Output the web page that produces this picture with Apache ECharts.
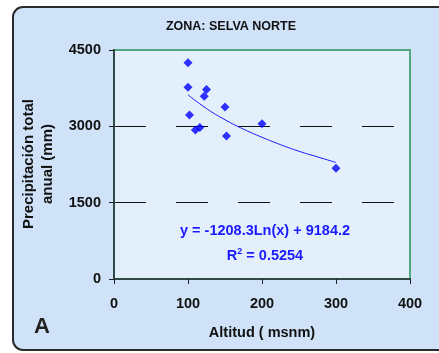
<!DOCTYPE html>
<html>
<head>
<meta charset="utf-8">
<script src="https://cdn.jsdelivr.net/npm/echarts@6/dist/echarts.min.js"></script>
<style>html,body{margin:0;padding:0;background:#fff;}#c{width:439px;height:353px;}</style>
</head>
<body>
<div id="c"></div>
<script>
const titleText = 'ZONA: SELVA NORTE';
const xAxisName = 'Altitud ( msnm)';
const yAxisName = ['Precipitación total', 'anual (mm)'];
const panelLabel = 'A';
const altitud = [100, 100, 102, 110, 116, 122, 125, 150, 152, 200, 300];
const precip = [4250, 3766, 3222, 2927, 2975, 3589, 3726, 3379, 2810, 3051, 2175];
const trendX = [100, 125, 150, 175, 200, 225, 250, 275, 300];
const trendY = [3620, 3350, 3130, 2945, 2785, 2640, 2510, 2400, 2290];
const equation = 'y = -1208.3Ln(x) + 9184.2';
const r2 = '0.5254';

const chart = echarts.init(document.getElementById('c'), null, {renderer: 'canvas'});
const FONT = 'Arial, "Liberation Sans", sans-serif';
chart.setOption({
  animation: false,
  backgroundColor: '#ffffff',
  graphic: [
    {type: 'rect', z: -10, shape: {x: 13, y: 7, width: 460, height: 343, r: 10},
     style: {fill: '#cfe2f8', stroke: '#2b2b2b', lineWidth: 2}},
    {type: 'text', x: 231, y: 27, style: {text: titleText, font: 'bold 12.5px ' + FONT, fill: '#111', align: 'center', verticalAlign: 'middle'}},
    {type: 'text', x: 29, y: 164, rotation: Math.PI / 2, style: {text: yAxisName[0], font: 'bold 15px ' + FONT, fill: '#111', align: 'center', verticalAlign: 'middle'}},
    {type: 'text', x: 48, y: 164, rotation: Math.PI / 2, style: {text: yAxisName[1], font: 'bold 15px ' + FONT, fill: '#111', align: 'center', verticalAlign: 'middle'}},
    {type: 'text', x: 262, y: 333, style: {text: xAxisName, font: 'bold 14.5px ' + FONT, fill: '#111', align: 'center', verticalAlign: 'middle'}},
    {type: 'text', x: 42, y: 327, style: {text: panelLabel, font: 'bold 22px ' + FONT, fill: '#222', align: 'center', verticalAlign: 'middle'}},
    {type: 'text', x: 265, y: 231, style: {text: equation, font: 'bold 14.5px ' + FONT, fill: '#1a1aff', align: 'center', verticalAlign: 'middle'}},
    {type: 'text', x: 265, y: 256, style: {
      text: '{a|R}{s|2}{a| = ' + r2 + '}', align: 'center', verticalAlign: 'middle',
      rich: {a: {font: 'bold 14.5px ' + FONT, fill: '#1a1aff'}, s: {font: 'bold 9px ' + FONT, fill: '#1a1aff', verticalAlign: 'top', padding: [0,0,8,0]}}
    }}
  ],
  grid: {left: 114, top: 50, right: 29, bottom: 74, show: true, backgroundColor: '#e4effc', borderColor: '#4fa77f', borderWidth: 2},
  xAxis: {
    type: 'value', min: 0, max: 400, interval: 100,
    axisLine: {show: true, onZero: false, lineStyle: {color: '#2f4a44', width: 2}},
    axisTick: {show: true, length: 5, lineStyle: {color: '#222', width: 1}},
    axisLabel: {margin: 17, color: '#111', fontWeight: 'bold', fontSize: 14.5, fontFamily: FONT, formatter: v => String(v)},
    splitLine: {show: false}
  },
  yAxis: {
    type: 'value', min: 0, max: 4500, interval: 1500,
    axisLine: {show: true, onZero: false, lineStyle: {color: '#2f4a44', width: 2}},
    axisTick: {show: true, length: 5, lineStyle: {color: '#222', width: 1}},
    axisLabel: {margin: 13, color: '#111', fontWeight: 'bold', fontSize: 14.5, fontFamily: FONT, formatter: v => String(v)},
    splitLine: {show: true, showMinLine: false, showMaxLine: false, lineStyle: {color: '#111', width: 1, type: [32, 30]}}
  },
  series: [
    {type: 'line', data: trendX.map((x, i) => [x, trendY[i]]), smooth: true, showSymbol: false,
     lineStyle: {color: '#1a1aff', width: 1}, z: 3, silent: true},
    {type: 'scatter', data: altitud.map((x, i) => [x, precip[i]]), symbol: 'diamond', symbolSize: 9,
     itemStyle: {color: '#0000ff'}, z: 4}
  ]
});
</script>
</body>
</html>
